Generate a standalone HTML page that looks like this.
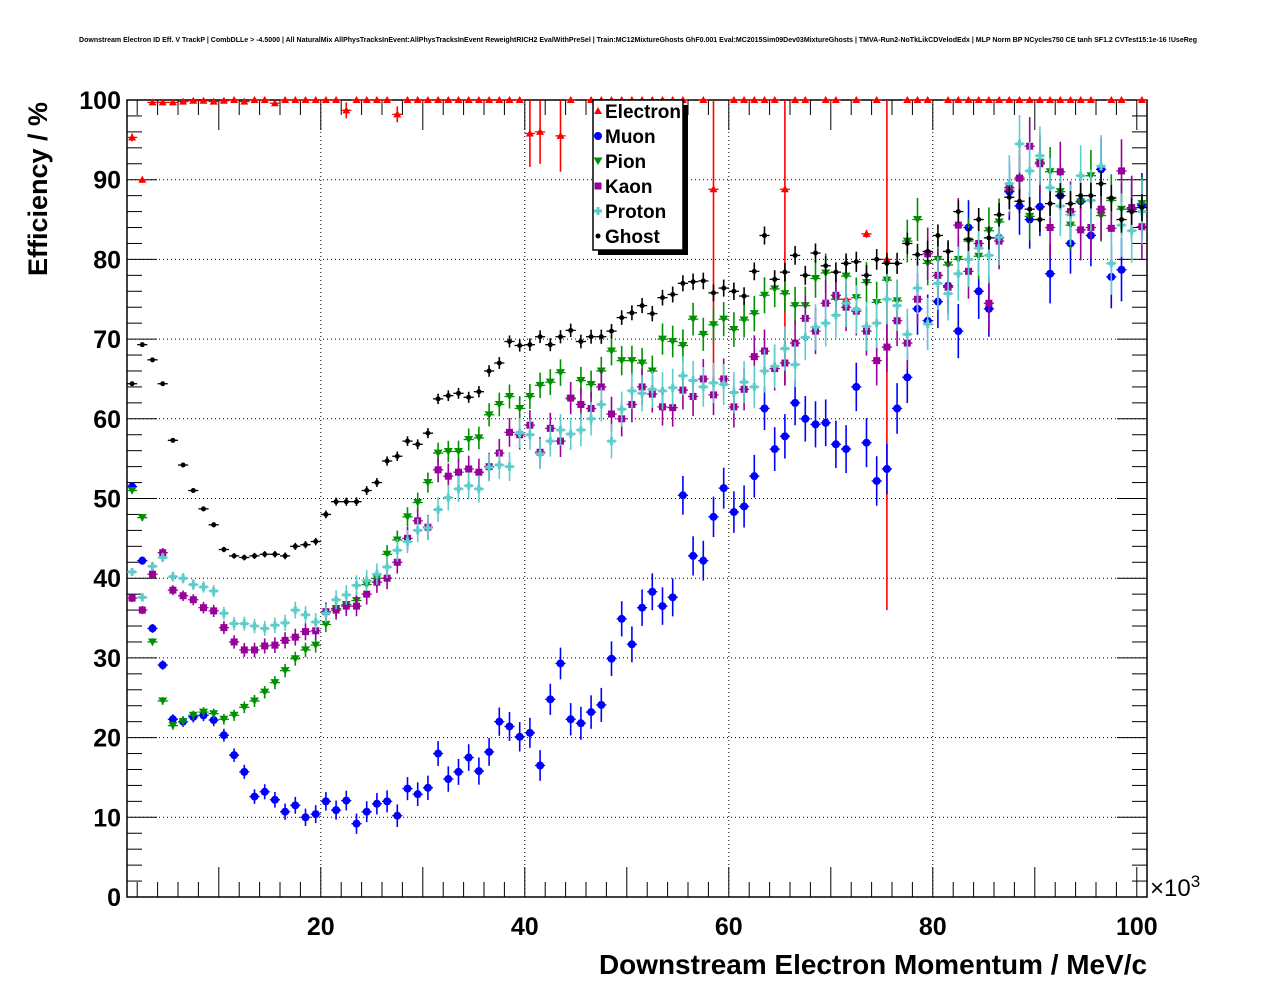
<!DOCTYPE html>
<html><head><meta charset="utf-8"><style>
body{margin:0;background:#fff}
svg text{font-family:"Liberation Sans",sans-serif}
</style></head><body>
<svg id="c" width="1276" height="996" xmlns="http://www.w3.org/2000/svg">
<text x="638" y="42" font-size="7.3" font-weight="bold" text-anchor="middle" textLength="1118" lengthAdjust="spacingAndGlyphs">Downstream Electron ID Eff. V TrackP | CombDLLe &gt; -4.5000 | All NaturalMix AllPhysTracksInEvent:AllPhysTracksInEvent ReweightRICH2 EvalWithPreSel | Train:MC12MixtureGhosts GhF0.001 Eval:MC2015Sim09Dev03MixtureGhosts | TMVA-Run2-NoTkLikCDVelodEdx | MLP Norm BP NCycles750 CE tanh SF1.2 CVTest15:1e-16 !UseReg</text>
<g id="grid"></g>
<g id="axes"></g>
<g id="marks"></g>
<text transform="translate(47,189) rotate(-90)" font-size="27" font-weight="bold" text-anchor="middle">Efficiency / %</text>
<text x="1147" y="974" font-size="28" font-weight="bold" text-anchor="end" textLength="548" lengthAdjust="spacingAndGlyphs">Downstream Electron Momentum / MeV/c</text>
<text x="1150" y="896" font-size="24">×10<tspan font-size="17" dy="-9">3</tspan></text>
<g id="legend"></g>
</svg>
<script>
const ticksX=[20,40,60,80,100];
const ticksY=[0,10,20,30,40,50,60,70,80,90,100];
const electron=[95.3,90,99.7,99.7,99.7,99.8,99.9,99.9,99.8,99.9,100,99.8,100,100,99.6,100,100,100,100,100,100,98.7,100,100,100,100,98.2,100,100,100,100,100,100,100,100,100,100,100,100,95.8,96,null,95.5,100,null,100,100,100,100,100,100,100,100,100,100,null,100,88.8,null,100,100,100,100,100,88.8,100,100,null,100,100,75,100,83.2,100,80,null,100,100,100,null,100,100,100,100,100,100,100,100,100,100,100,100,100,100,100,null,100,100,null,100];
const electronErr={0:0.5,1:0.4,21:1,26:1,39:4.2,40:4,42:4.5,57:11.2,64:11.2,70:0.5,72:0.5,74:20};
const muon=[51.5,42.2,33.7,29.1,22.3,22,22.6,22.8,22.2,20.3,17.8,15.7,12.6,13.2,12.2,10.7,11.5,10,10.4,12,10.9,12.1,9.2,10.7,11.7,12,10.2,13.6,12.9,13.7,18,14.8,15.7,17.5,15.8,18.2,22,21.4,20.1,20.6,16.5,24.8,29.3,22.3,21.8,23.2,24.1,29.9,34.9,31.7,36.3,38.3,36.5,37.6,50.4,42.8,42.2,47.7,51.3,48.3,49,52.8,61.3,56.2,57.8,62,60,59.3,59.5,56.8,56.2,64,57,52.2,53.7,61.3,65.2,73.8,72.3,74.7,76.7,71,84,76,73.8,82.7,88.5,86.7,85,86.6,78.2,88,82,87.3,83,91.3,77.8,78.7,86.3,86.8];
const pion=[51,47.6,32,24.6,21.5,22,22.8,23.2,23,22.3,22.8,23.8,24.6,25.7,26.9,28.4,29.9,31,31.6,34.2,36.2,36.7,37.2,39.2,40,43,44.8,47.7,49.5,52,55.7,55.9,55.9,57.4,57.6,60.5,61.8,62.8,61.3,62.8,64.2,64.6,65.8,62.5,64.8,64.3,66,68.5,67.3,67.3,67,66,70,69.7,69.2,72.5,70.6,71.8,72.5,71.2,72.4,73.2,75.5,76.3,75.7,74.2,74.2,77.6,78.3,75,77.9,75.2,77.1,74.6,77.4,74.8,82.3,85,79.5,80,79.3,80,82.3,80.4,83.6,84.7,88.7,90,85.4,92.2,91,88.5,84.3,87.2,90.5,85.5,87.4,86.3,86,87];
const kaon=[37.5,36,40.5,43.2,38.5,37.8,37.3,36.3,35.9,33.8,32,31,31,31.5,31.6,32.2,32.6,33.3,33.4,35.8,36,36.5,36.5,38,39.5,40,42,45,47.2,46.4,53.6,52.8,53.3,53.7,53.3,54,55.7,58.3,58,59.2,55.8,58.8,57.2,62.6,61.8,61.3,64,60.6,60,61.8,64,63.1,61.5,61.4,63.6,62.8,65,63,65,61.5,63.7,67.8,68.5,66.3,67,69.5,72.6,71,74.5,75.5,74,73.5,71,67.3,69,72.3,69.5,75,80.7,78,76.5,84.3,78.5,82,74.5,82.3,89,90.2,94.2,92,84,91,86,83.7,84,86.3,83.9,91.1,86.5,84.1];
const proton=[40.8,37.6,41.5,42.6,40.2,40,39.2,38.9,38.4,35.6,34.3,34.3,34,33.7,34.1,34.4,36,35.4,34.5,35.6,37.3,37.9,39.1,39.7,40.5,41.4,43.5,44.6,46,46.3,48.6,50.1,51.2,51.6,51.2,53.9,54.2,54,58.2,58,55.6,57.2,58.6,58.1,58.6,60,61.8,57.2,61.2,63.5,63.2,63.7,63.5,63.9,65.4,64.8,64,64.5,64.3,63.3,64.6,64,66,66.6,68.8,66.8,70.2,71.5,72,73,74.5,73.7,71.6,72,75,74.2,70.6,76.4,71.9,77,75.7,78.2,80,81.4,80.5,82.8,89.5,94.5,91.1,93,89,86.7,85.6,90.5,87.4,91.7,79.5,84.3,83.6,86];
const ghost=[64.4,69.3,67.4,64.4,57.3,54.2,51,48.7,46.7,43.6,42.8,42.6,42.8,43,43,42.8,44,44.2,44.6,48,49.6,49.6,49.6,51,52,54.7,55.3,57.2,56.8,58.2,62.5,62.9,63.2,62.7,63.4,66,67,69.7,69.2,69.3,70.3,69.3,70.3,71.1,69.7,70.3,70.3,71,72.7,73.3,74.2,73.2,75.2,75.6,77,77.2,77.3,75.8,76.4,76,75.4,78.5,83,77.5,78.4,80.5,78,80.8,79.2,78.4,79.5,79.7,78,80,79.5,79.5,82,80.6,81,83,81,86,82.5,85,82.7,85.6,87.8,87.3,86.3,85,87,88,87,88,88,89.5,87.7,85,86,86.5];
const names=["Electron","Muon","Pion","Kaon","Proton","Ghost"];
const series=[electron,muon,pion,kaon,proton,ghost];
const colors=["#ff0000","#0000ff","#009000","#990099","#5fcccc","#000000"];
const X0=127,X1=1147,Y0=897,Y1=100,XMIN=1,XMAX=101;
const sx=v=>X0+(v-XMIN)/(XMAX-XMIN)*(X1-X0);
const sy=v=>Y0-v/100*(Y0-Y1);
const NS="http://www.w3.org/2000/svg";
function mk(t,a,p){const e=document.createElementNS(NS,t);for(const k in a)e.setAttribute(k,a[k]);p.appendChild(e);return e;}
const grid=document.getElementById('grid'),axes=document.getElementById('axes'),marks=document.getElementById('marks'),leg=document.getElementById('legend');
ticksX.forEach(t=>{
 if(t<100){const g=mk('line',{x1:sx(t),x2:sx(t),y1:Y1,y2:Y0,stroke:'#000','stroke-dasharray':'1,3','stroke-width':1},grid);
 
 }
 const l=mk('text',{x:sx(t),y:935,'font-size':25,'font-weight':'bold','text-anchor':'middle'},axes);l.textContent=t;
 
 
});
ticksY.forEach(t=>{
 if(t>0&&t<100){const g=mk('line',{x1:X0,x2:X1,y1:sy(t),y2:sy(t),stroke:'#000','stroke-dasharray':'1,3','stroke-width':1},grid);
 
 }
 const l=mk('text',{x:121,y:sy(t)+9,'font-size':25,'font-weight':'bold','text-anchor':'end'},axes);l.textContent=t;
 
 
});
for(let v=XMIN+1;v<XMAX;v+=2){const big=v%10===0;mk('line',{x1:sx(v),x2:sx(v),y1:Y0,y2:Y0-(big?30:15),stroke:'#000'},axes);mk('line',{x1:sx(v),x2:sx(v),y1:Y1,y2:Y1+(big?30:15),stroke:'#000'},axes);}
for(let v=0;v<=100;v+=2){const big=v%10===0;mk('line',{x1:X0,x2:X0+(big?30:15),y1:sy(v),y2:sy(v),stroke:'#000'},axes);mk('line',{x1:X1,x2:X1-(big?30:15),y1:sy(v),y2:sy(v),stroke:'#000'},axes);}
mk('rect',{x:X0,y:Y1,width:X1-X0,height:Y0-Y1,fill:'none',stroke:'#000','stroke-width':1.5},axes);
function marker(k,x,y,c,p){
 if(k===0)return mk('polygon',{points:`${x},${y-4} ${x-4},${y+3} ${x+4},${y+3}`,fill:c},p);
 if(k===1)return mk('circle',{cx:x,cy:y,r:4,fill:c},p);
 if(k===2)return mk('polygon',{points:`${x},${y+4} ${x-4.5},${y-3.5} ${x+4.5},${y-3.5}`,fill:c},p);
 if(k===3)return mk('rect',{x:x-3.5,y:y-3.5,width:7,height:7,fill:c},p);
 if(k===4)return mk('path',{d:`M${x-4},${y-1.5}h2.5v-2.5h3v2.5h2.5v3h-2.5v2.5h-3v-2.5h-2.5z`,fill:c},p);
 return mk('circle',{cx:x,cy:y,r:2.5,fill:c},p);
}
const errScale=[0.3,0.6,0.5,0.6,0.6,0.25];
series.forEach((arr,k)=>{
 const g=mk('g',{},marks);
 
 
 arr.forEach((v,i)=>{
  if(v===null)return;
  const c=i+XMIN+0.5,x=sx(c),y=sy(v);
  let e;
  if(k===0)e=(electronErr[i]!==undefined)?electronErr[i]:0.2;
  else e=errScale[k]*(0.8+i*0.06);
  mk('line',{x1:sx(c-0.5),x2:sx(c+0.5),y1:y,y2:y,stroke:colors[k],'stroke-width':1.3},g);
  mk('line',{x1:x,x2:x,y1:sy(Math.min(100,v+e)),y2:sy(v-(k===0&&e>10?2.2*e:e)),stroke:colors[k],'stroke-width':1.6},g);
  const m=marker(k,x,y,colors[k],g);
  
  
 });
});
mk('rect',{x:598,y:105,width:90,height:150,fill:'#000'},leg);
mk('rect',{x:593,y:100,width:90,height:150,fill:'#fff',stroke:'#000','stroke-width':1.5},leg);
names.forEach((n,k)=>{
 const y=111+k*25;
 const e=mk('g',{},leg);
 
 
 marker(k,598,y,colors[k],e);
 const t=mk('text',{x:605,y:y+7,'font-size':19,'font-weight':'bold'},e);t.textContent=n;
});
</script>
</body></html>
